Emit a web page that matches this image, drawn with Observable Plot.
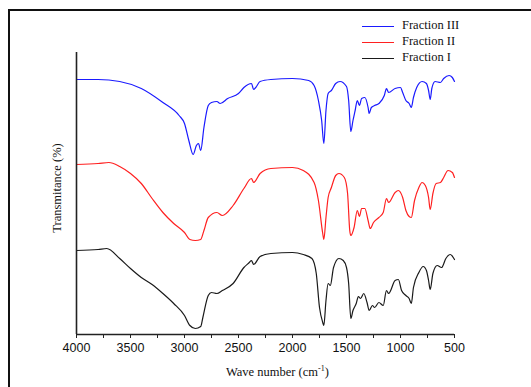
<!DOCTYPE html>
<html><head><meta charset="utf-8">
<script src="https://cdn.jsdelivr.net/npm/d3@7"></script>
<script src="https://cdn.jsdelivr.net/npm/@observablehq/plot@0.6"></script>
<style>
html,body{margin:0;padding:0;background:#fff;width:531px;height:387px;overflow:hidden;}
#wrap{position:relative;width:531px;height:387px;}
#frame{position:absolute;left:8px;top:9px;width:600px;height:500px;border-top:2px solid #111;border-left:2px solid #111;}
.lab{position:absolute;font-family:"Liberation Serif","Times New Roman",serif;font-size:12.5px;color:#111;white-space:nowrap;}
#legend{position:absolute;left:362px;top:18px;width:130px;font-family:"Liberation Serif",serif;font-size:12.5px;color:#111;}
#legend .row{position:relative;height:16px;white-space:nowrap;}
#legend .sw{position:absolute;left:0;top:8px;width:32px;height:0;border-top:1.3px solid;}
#legend .tx{position:absolute;left:40px;top:0;white-space:nowrap;}
</style></head>
<body><div id="wrap"><div id="frame"></div><div id="chart"></div>
<div class="lab" id="xl" style="left:226px;top:364px;">Wave number (cm<sup style="font-size:8px;vertical-align:5px">-1</sup>)</div>
<div class="lab" id="yl" style="left:57px;top:188px;transform:translate(-50%,-50%) rotate(-90deg);">Transmitance (%)</div>
<div id="legend"></div>
</div>
<script>
const seriesNames = ["Fraction III","Fraction II","Fraction I"];
const seriesColors = ["#1a1aff","#ff2020","#1a1a1a"];

const waveIII = [4000,3800,3600,3400,3200,3050,3000,2960,2920,2890,2870,2850,2820,2780,2750,2700,2670,2600,2500,2450,2380,2360,2340,2300,2200,2000,1850,1800,1760,1730,1710,1690,1670,1640,1600,1560,1500,1480,1460,1440,1420,1400,1380,1360,1330,1300,1290,1270,1240,1200,1150,1130,1110,1050,1000,980,950,920,900,880,850,800,760,740,725,710,680,630,600,550,520,500];
const transIII = [255,255,253,246,232,219,211,194,180,189,191,184,207,229,232,233,231,236,241,247,251,245,247,253,255,256,254,249,234,214,191,224,241,244,251,253,248,234,203,214,224,234,229,236,237,227,221,227,229,231,239,246,242,246,247,242,234,231,227,237,247,253,251,244,235,246,253,252,256,259,257,253];

const waveII = [4000,3800,3700,3600,3500,3400,3300,3200,3100,3000,2950,2900,2850,2820,2780,2700,2650,2550,2450,2380,2360,2300,2200,2000,1900,1800,1760,1720,1710,1690,1670,1640,1600,1570,1520,1490,1470,1460,1430,1400,1380,1360,1330,1300,1280,1250,1200,1160,1130,1110,1050,1020,980,950,920,900,870,830,800,770,740,725,700,670,630,600,560,520,500];
const transII = [170,171,172,168,161,151,136,122,111,102,95,94,95,104,117,122,119,129,146,156,152,161,166,167,164,152,134,101,95,117,137,147,159,161,157,141,104,99,107,124,118,126,126,114,106,112,117,122,136,132,142,144,137,124,118,117,134,147,152,149,137,125,141,151,152,157,164,162,157];

const waveI = [4000,3800,3720,3600,3500,3400,3300,3200,3100,3000,2950,2900,2850,2830,2780,2750,2700,2650,2550,2450,2400,2380,2360,2300,2200,2000,1900,1820,1780,1750,1720,1710,1690,1670,1650,1620,1570,1530,1500,1480,1460,1440,1410,1390,1370,1340,1310,1290,1260,1240,1200,1160,1130,1110,1050,1020,990,950,920,900,880,830,790,760,740,725,700,660,620,580,540,500];
const transI = [84,85,86,76,66,57,50,41,31,19,9,6,8,17,39,42,41,44,51,67,72,74,70,78,81,82,80,76,61,27,12,9,34,51,49,67,76,74,67,51,16,24,31,38,36,41,32,24,29,27,32,29,44,41,54,55,44,39,36,31,47,62,68,64,54,45,61,69,67,76,80,75];

const xTicks = [4000,3750,3500,3250,3000,2750,2500,2250,2000,1750,1500,1250,1000,750,500];
const xLabeled = [4000,3500,3000,2500,2000,1500,1000,500];

const waves = [waveIII, waveII, waveI];
const trans = [transIII, transII, transI];
const rows = [];
seriesNames.forEach((name, i) => {
  waves[i].forEach((w, j) => rows.push({series: name, wave: w, t: trans[i][j]}));
});

const plot = Plot.plot({
  width: 531, height: 387,
  marginLeft: 76, marginRight: 77, marginTop: 52, marginBottom: 53,
  style: {background: "transparent", fontFamily: "'Liberation Sans', Arial, sans-serif", fontSize: "12.5px", color: "#111"},
  x: {domain: [4000, 500], label: null},
  y: {domain: [0, 282], axis: null},
  color: {domain: seriesNames, range: seriesColors},
  marks: [
    Plot.line(rows, {x: "wave", y: "t", z: "series", stroke: "series", strokeWidth: 1.2, curve: "monotone-x"}),
    Plot.ruleY([0], {stroke: "#222", strokeWidth: 1.6}),
    Plot.ruleX([4000], {stroke: "#222", strokeWidth: 1.6}),
    Plot.axisX({ticks: xTicks, tickSize: 4, tickPadding: 5, stroke: "#222", tickFormat: d => xLabeled.includes(d) ? String(d) : "", label: null})
  ]
});
document.getElementById("chart").appendChild(plot);

const leg = document.getElementById("legend");
seriesNames.forEach((n, i) => {
  const r = document.createElement("div"); r.className = "row";
  r.innerHTML = `<div class="sw" style="border-color:${seriesColors[i]}"></div><div class="tx">${n}</div>`;
  leg.appendChild(r);
});
</script></body></html>
